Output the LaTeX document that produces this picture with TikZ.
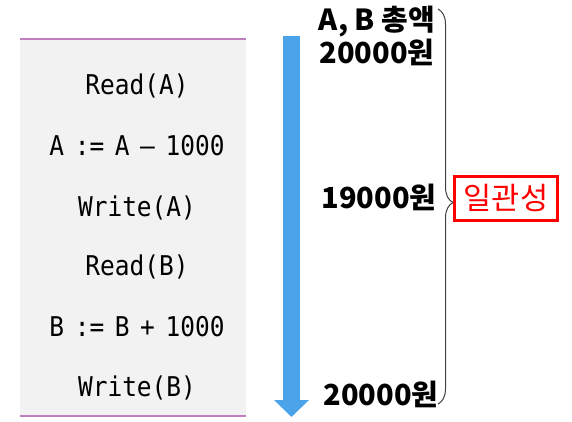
\documentclass[tikz,border=0pt]{standalone}
\usepackage{fontspec}
\setmonofont{DejaVu Sans Mono}[FakeStretch=0.9, WordSpace=0.72]
\newfontfamily\kofont{Noto Sans CJK KR}
\usetikzlibrary{arrows.meta,decorations.pathreplacing}

\definecolor{codebg}{HTML}{F2F2F2}
\definecolor{rulepurple}{HTML}{BF7FBF}
\definecolor{flowblue}{HTML}{4BA3EA}
\definecolor{bracegray}{HTML}{404040}

\tikzset{
  codeline/.style={font=\ttfamily\fontsize{13.6}{15}\selectfont},
  amount/.style={font=\kofont\bfseries\fontsize{14.5}{13}\selectfont, align=center},
  redbox/.style={draw=red, line width=1.6pt, text=red, inner sep=0pt,
    font=\kofont\fontsize{15.3}{16}\selectfont,
    minimum width=51.5pt, minimum height=22pt}
}

\begin{document}
\begin{tikzpicture}[x=0.5pt, y=-0.5pt]
  \useasboundingbox (0,0) rectangle (572,422);

  % transaction box
  \fill[codebg] (20,39) rectangle (246,416);
  \draw[rulepurple, line width=1pt] (20,39) -- (246,39);
  \draw[rulepurple, line width=1pt] (20,416) -- (246,416);

  \node[codeline] (rda)   at (137,86)  {Read(A)};
  \node[codeline] (calca) at (137,146) {A := A – 1000};
  \node[codeline] (wra)   at (137,208) {Write(A)};
  \node[codeline] (rdb)   at (137,267) {Read(B)};
  \node[codeline] (calcb) at (137,327) {B := B + 1000};
  \node[codeline] (wrb)   at (137,388) {Write(B)};

  % time flow
  \coordinate (flowtop) at (291.5,36);
  \coordinate (flowbot) at (291.5,417);
  \draw[flowblue, line width=8.5pt,
    -{Triangle[width=17pt, length=8.5pt]}] (flowtop) -- (flowbot);

  % totals
  \node[amount] (sumtop) at (377,36)  {A, B 총액\\20000원};
  \node[amount] (summid) at (379,197) {19000원};
  \node[amount] (sumbot) at (381,394) {20000원};

  % brace
  \coordinate (bracetop) at (438,9);
  \coordinate (bracebot) at (438,404);
  \draw[bracegray, line width=0.5pt, decorate,
    decoration={brace, amplitude=7.5pt, aspect=0.49}] (bracetop) -- (bracebot);

  \node[redbox] (consist) at (506,198.5) {일관성};
\end{tikzpicture}
\end{document}
